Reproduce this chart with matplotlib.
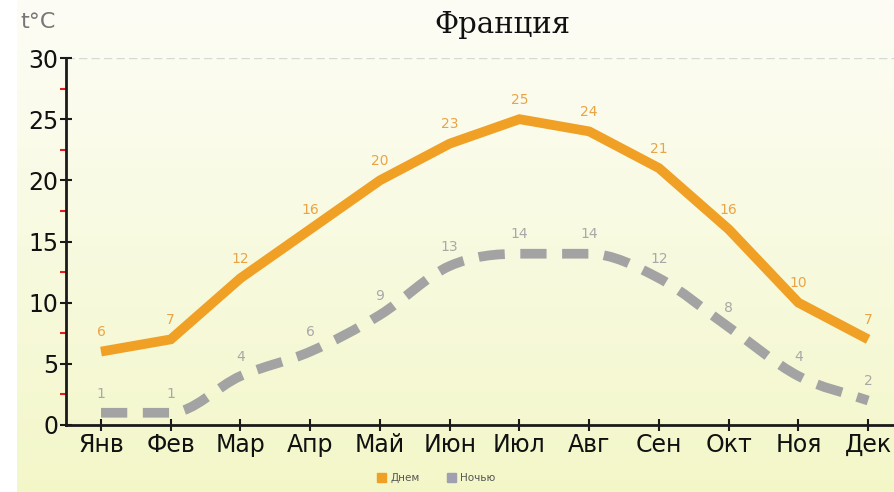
import numpy as np
import matplotlib
matplotlib.use("Agg")
import matplotlib.pyplot as plt
from matplotlib.colors import LinearSegmentedColormap
from matplotlib.path import Path
import matplotlib.patches as mpatches

# Donnees
mois = ["Янв", "Фев", "Мар", "Апр", "Май", "Июн",
        "Июл", "Авг", "Сен", "Окт", "Ноя", "Дек"]
jour = [6, 7, 12, 16, 20, 23, 25, 24, 21, 16, 10, 7]
nuit = [1, 1, 4, 6, 9, 13, 14, 14, 12, 8, 4, 2]

couleur_jour = "#f0a024"
couleur_nuit = "#a3a3a3"


# Courbe lissee (Bezier) passant par les points
def chemin_lisse(xs, ys):
    xs = np.asarray(xs, dtype=float)
    ys = np.asarray(ys, dtype=float)
    d = np.diff(ys) / np.diff(xs)
    m = np.zeros(len(ys))
    m[0] = d[0]
    m[-1] = d[-1]
    for i in range(1, len(ys) - 1):
        if d[i - 1] * d[i] <= 0:
            m[i] = 0.0
        else:
            m[i] = (d[i - 1] + d[i]) / 2
    sommets = [(xs[0], ys[0])]
    codes = [Path.MOVETO]
    for i in range(len(xs) - 1):
        h = xs[i + 1] - xs[i]
        sommets.append((xs[i] + h / 3, ys[i] + m[i] * h / 3))
        sommets.append((xs[i + 1] - h / 3, ys[i + 1] - m[i + 1] * h / 3))
        sommets.append((xs[i + 1], ys[i + 1]))
        codes += [Path.CURVE4, Path.CURVE4, Path.CURVE4]
    return Path(sommets, codes)


fig = plt.figure(figsize=(8.95, 4.92), dpi=100)
fig.patch.set_facecolor("white")

# Fond degrade
fond = fig.add_axes([17 / 895, 0, 1 - 17 / 895, 1])
cmap = LinearSegmentedColormap.from_list("fond", ["#fdfdf6", "#f8fae0", "#f3f7c8"])
grad = np.linspace(0, 1, 256).reshape(-1, 1)
fond.imshow(grad, aspect="auto", cmap=cmap, extent=[0, 1, 0, 1])
fond.axis("off")

ax = fig.add_axes([66 / 895, 67 / 492, 1 - 66 / 895, (425 - 58) / 492])
ax.patch.set_alpha(0)
x = np.arange(len(mois))

ax.plot(x, jour, color=couleur_jour, lw=7, solid_capstyle="butt",
        solid_joinstyle="miter", zorder=3)
courbe = mpatches.PathPatch(chemin_lisse(x, nuit), fill=False,
                            edgecolor=couleur_nuit, lw=7,
                            ls=(0, (2.7, 1.6)), capstyle="butt", zorder=2)
ax.add_patch(courbe)

for i in range(len(mois)):
    ax.text(x[i], jour[i] + 1.0, str(jour[i]), color="#eaa445",
            fontsize=10, ha="center", va="bottom", zorder=4)
    ax.text(x[i], nuit[i] + 1.0, str(nuit[i]), color="#a8a8a8",
            fontsize=10, ha="center", va="bottom", zorder=4)

ax.set_xlim(-0.502, 11.385)
ax.set_ylim(0, 30)
ax.set_xticks(x)
ax.set_xticklabels(mois)
ax.set_yticks([0, 5, 10, 15, 20, 25, 30])
ax.set_yticks([2.5, 7.5, 12.5, 17.5, 22.5, 27.5], minor=True)

ax.axhline(30, color="#d8d8d0", lw=1, ls=(0, (6, 3)), zorder=1)

for cote in ["top", "right"]:
    ax.spines[cote].set_visible(False)
for cote in ["left", "bottom"]:
    ax.spines[cote].set_linewidth(2)
    ax.spines[cote].set_color("#1a1a1a")

ax.tick_params(axis="both", which="major", direction="inout", length=9,
               width=1.5, color="#1a1a1a", labelsize=17, labelcolor="#111111",
               pad=1)
ax.tick_params(axis="y", which="minor", direction="out", length=4,
               width=1.5, color="#e02020")

fig.text(502 / 895, 1 - 25 / 492, "Франция", family="DejaVu Serif",
         fontsize=21, ha="center", va="center", color="#111111")
fig.text(20 / 895, 1 - 22 / 492, "t°C", fontsize=16, ha="left",
         va="center", color="#777777")

legende = [
    mpatches.Patch(color=couleur_jour, label="Днем"),
    mpatches.Patch(color="#a0a0b0", label="Ночью"),
]
fig.legend(handles=legende, loc="center", bbox_to_anchor=(436 / 895, 1 - 478 / 492),
           ncol=2, frameon=False, fontsize=7.5, handlelength=0.9,
           handleheight=0.9, handletextpad=0.4, columnspacing=2.6,
           labelcolor="#555555")

fig.savefig("out.png", dpi=100, facecolor=fig.get_facecolor())
